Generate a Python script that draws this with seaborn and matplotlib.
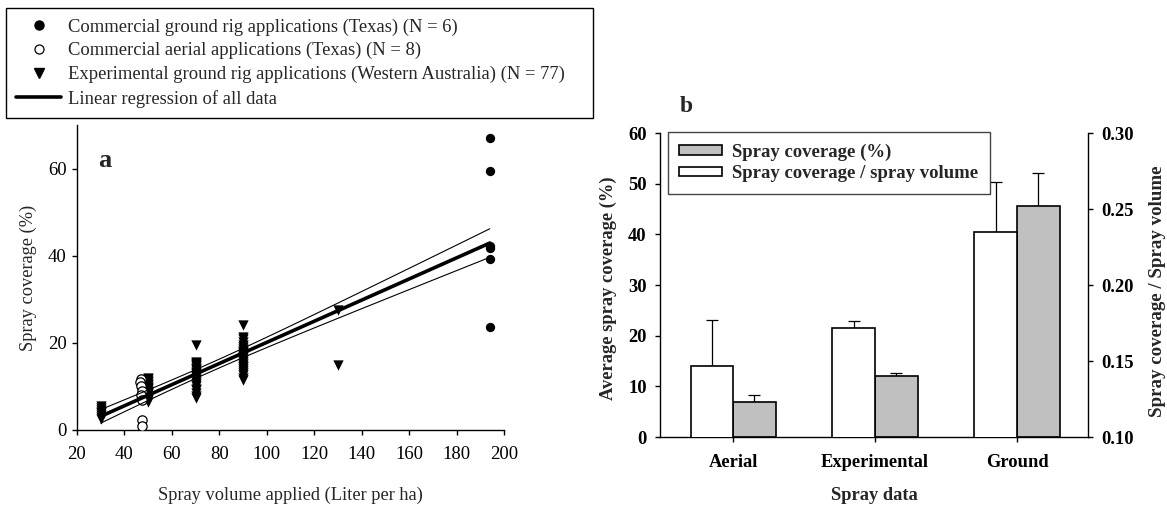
import numpy as np
import pandas as pd
import matplotlib
matplotlib.use("Agg")
import matplotlib.pyplot as plt
import seaborn as sns
from matplotlib.lines import Line2D
from matplotlib.patches import Patch

# ---------------- Panel a data ----------------
tx_ground_x = [194, 194, 194, 194, 194, 194]
tx_ground_y = [67.0, 59.4, 42.3, 41.8, 39.3, 23.7]

tx_aerial_x = [47.0, 46.5, 47.0, 47.5, 47.0, 47.5, 47.5, 47.5]
tx_aerial_y = [11.6, 11.0, 10.0, 9.0, 8.0, 7.0, 2.2, 1.0]

wa_x = ([30] * 8 + [50] * 18 + [70] * 24 + [90] * 25 + [130] * 2)
wa_y = [2.6, 3.0, 3.5, 3.8, 4.2, 4.7, 5.0, 5.4,
        6.5, 6.9, 7.1, 7.5, 7.8, 8.2, 8.4, 8.8, 9.0, 9.3, 9.7, 9.9, 10.3, 10.6, 11.0, 11.3, 11.7, 11.9,
        7.3, 7.9, 8.4, 9.1, 9.5, 10.1, 10.6, 11.0, 11.5, 11.8, 12.2, 12.4, 12.9, 13.1, 13.4, 13.8, 14.0,
        14.3, 14.7, 14.9, 15.1, 15.3, 15.5, 19.6,
        11.4, 12.0, 12.7, 13.1, 13.6, 14.0, 14.5, 14.8, 15.2, 15.7, 16.0, 16.3, 16.7, 16.9, 17.2, 17.6,
        17.8, 18.1, 18.6, 19.0, 19.5, 20.2, 20.9, 21.3, 24.2,
        27.6, 15.0]

legend_a_labels = ["Commercial ground rig applications (Texas) (N = 6)",
                   "Commercial aerial applications (Texas) (N = 8)",
                   "Experimental ground rig applications (Western Australia) (N = 77)",
                   "Linear regression of all data"]

# ---------------- Panel b data ----------------
categories = ["Aerial", "Experimental", "Ground"]
coverage_pct = [6.9, 12.0, 45.5]
coverage_pct_err = [1.4, 0.6, 6.6]
coverage_ratio = [0.147, 0.172, 0.235]
coverage_ratio_err = [0.030, 0.004, 0.033]

# ---------------- Style ----------------
sns.set_style("ticks")
plt.rcParams["font.family"] = ["Liberation Serif", "DejaVu Serif"]
plt.rcParams["axes.linewidth"] = 1.0
plt.rcParams["xtick.major.width"] = 1.0
plt.rcParams["ytick.major.width"] = 1.0
plt.rcParams["xtick.major.size"] = 3.5
plt.rcParams["ytick.major.size"] = 3.5
plt.rcParams["xtick.color"] = "black"
plt.rcParams["ytick.color"] = "black"
plt.rcParams["axes.edgecolor"] = "black"

W, H = 1167, 508
fig = plt.figure(figsize=(W / 100, H / 100), dpi=100)

# ---------------- Panel a ----------------
axa = fig.add_axes([77 / W, 1 - 430 / H, 427 / W, 305 / H])

df_g = pd.DataFrame({"x": tx_ground_x, "y": tx_ground_y})
df_a = pd.DataFrame({"x": tx_aerial_x, "y": tx_aerial_y})
df_w = pd.DataFrame({"x": wa_x, "y": wa_y})

sns.scatterplot(data=df_w, x="x", y="y", marker="v", color="black", s=55,
                linewidth=0, ax=axa, zorder=3)
sns.scatterplot(data=df_a, x="x", y="y", marker="o", facecolor="white",
                edgecolor="black", s=45, linewidth=0.9, ax=axa, zorder=3)
sns.scatterplot(data=df_g, x="x", y="y", marker="o", color="black", s=45,
                linewidth=0, ax=axa, zorder=3)

# regression of all data with 95% confidence band of the mean
x_all = np.array(tx_ground_x + tx_aerial_x + wa_x, dtype=float)
y_all = np.array(tx_ground_y + tx_aerial_y + wa_y, dtype=float)
n = len(x_all)
slope, intercept = np.polyfit(x_all, y_all, 1)
resid = y_all - (slope * x_all + intercept)
s = np.sqrt(np.sum(resid ** 2) / (n - 2))
xm = x_all.mean()
sxx = np.sum((x_all - xm) ** 2)
xs = np.linspace(x_all.min(), x_all.max(), 100)
ys = slope * xs + intercept
se = s * np.sqrt(1 / n + (xs - xm) ** 2 / sxx)
tval = 1.987
axa.plot(xs, ys, color="black", lw=2.6, zorder=4)
axa.plot(xs, ys + tval * se, color="black", lw=0.8, zorder=4)
axa.plot(xs, ys - tval * se, color="black", lw=0.8, zorder=4)

axa.set_xlim(20, 200)
axa.set_ylim(0, 70)
axa.set_xticks(np.arange(20, 201, 20))
axa.set_yticks([0, 20, 40, 60])
sns.despine(ax=axa)
axa.tick_params(axis="x", labelsize=13.5, pad=8, direction="out")
axa.tick_params(axis="y", labelsize=13.5, pad=4, direction="out")
axa.set_xlabel("Spray volume applied (Liter per ha)", fontsize=13.2)
axa.set_ylabel("Spray coverage (%)", fontsize=13.2)
axa.xaxis.label.set_va("center")
axa.yaxis.label.set_va("center")
axa.xaxis.set_label_coords(0.5, (430 - 495) / 305)
axa.yaxis.set_label_coords((28 - 77) / 427, 0.5)
axa.text(0.05, 0.885, "a", transform=axa.transAxes, fontsize=19,
         fontweight="bold", ha="left", va="center")

handles_a = [
    Line2D([], [], marker="o", color="black", ls="none", ms=6.5),
    Line2D([], [], marker="o", mfc="white", mec="black", ls="none", ms=6.5, mew=0.9),
    Line2D([], [], marker="v", color="black", ls="none", ms=7),
    Line2D([], [], color="black", lw=2.6),
]
leg_a = fig.legend(handles_a, legend_a_labels, loc="upper left",
                   bbox_to_anchor=(6 / W, 1 - 115 / H, 587 / W, 107 / H),
                   mode="expand", fontsize=13.4, frameon=True, fancybox=False,
                   edgecolor="black", framealpha=1, borderpad=0.55,
                   labelspacing=0.35, handlelength=2.4, handletextpad=0.4,
                   borderaxespad=0)
leg_a.get_frame().set_linewidth(1.0)

# ---------------- Panel b ----------------
axb = fig.add_axes([660 / W, 1 - 437 / H, 428 / W, 304 / H])
axb2 = axb.twinx()
pos = np.arange(len(categories))
bw = 0.3

axb.bar(pos + bw / 2, coverage_pct, width=bw, color="#c0c0c0",
        edgecolor="black", linewidth=1.2, zorder=2)
axb.errorbar(pos + bw / 2, coverage_pct, yerr=[[0] * 3, coverage_pct_err],
             fmt="none", ecolor="black", elinewidth=0.9, capsize=4,
             capthick=0.9, zorder=1)
axb2.bar(pos - bw / 2, coverage_ratio, width=bw, color="white",
         edgecolor="black", linewidth=1.2, zorder=2)
axb2.errorbar(pos - bw / 2, coverage_ratio, yerr=[[0] * 3, coverage_ratio_err],
              fmt="none", ecolor="black", elinewidth=0.9, capsize=4,
              capthick=0.9, zorder=1)

axb.set_xlim(-0.515, 2.5)
axb.set_ylim(0, 60)
axb.set_yticks(np.arange(0, 61, 10))
axb2.set_ylim(0.10, 0.30)
axb2.set_yticks([0.10, 0.15, 0.20, 0.25, 0.30])
axb2.set_yticklabels(["0.10", "0.15", "0.20", "0.25", "0.30"])
axb.set_xticks(pos)
axb.set_xticklabels(categories)

for sp in ["top", "right"]:
    axb.spines[sp].set_visible(False)
for sp in ["top", "left", "bottom"]:
    axb2.spines[sp].set_visible(False)
axb2.spines["right"].set_visible(True)

axb.tick_params(axis="x", labelsize=13.3, pad=9, direction="out")
axb.tick_params(axis="y", labelsize=13.3, pad=6, direction="out")
axb2.tick_params(axis="y", labelsize=13.3, pad=6, direction="out")
for lab in axb.get_xticklabels() + axb.get_yticklabels() + axb2.get_yticklabels():
    lab.set_fontweight("bold")

axb.set_xlabel("Spray data", fontsize=13.3, fontweight="bold")
axb.set_ylabel("Average spray coverage (%)", fontsize=13.3, fontweight="bold")
axb2.set_ylabel("Spray coverage / Spray volume", fontsize=13.6, fontweight="bold")
axb.xaxis.label.set_va("center")
axb.yaxis.label.set_va("center")
axb2.yaxis.label.set_va("center")
axb.xaxis.set_label_coords(0.5, (437 - 495) / 304)
axb.yaxis.set_label_coords((608 - 660) / 428, 0.49)
axb2.yaxis.set_label_coords((1157 - 660) / 428, 0.48)

fig.text(686 / W, 1 - 106 / H, "b", fontsize=17, fontweight="bold",
         ha="center", va="center")

handles_b = [Patch(facecolor="#c0c0c0", edgecolor="black", linewidth=1.2),
             Patch(facecolor="white", edgecolor="black", linewidth=1.2)]
labels_b = ["Spray coverage (%)", "Spray coverage / spray volume"]
leg_b = axb2.legend(handles_b, labels_b, loc="upper left",
                    bbox_to_anchor=((668 - 660) / 428, (437 - 132) / 304),
                    borderaxespad=0, frameon=True, fancybox=False,
                    edgecolor="#444444", framealpha=1, handlelength=2.3,
                    handleheight=0.43, handletextpad=0.53, labelspacing=0.25,
                    borderpad=0.6, prop={"weight": "bold", "size": 13.5})
leg_b.get_frame().set_linewidth(1.0)

fig.savefig("out.png", dpi=100)
